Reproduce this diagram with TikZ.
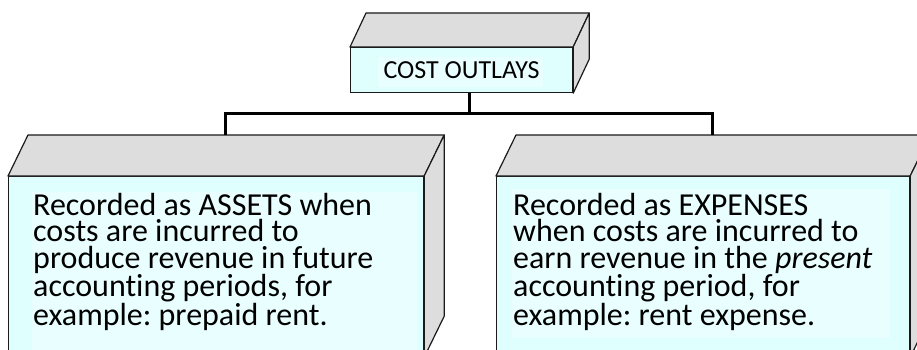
\documentclass[tikz,border=0pt]{standalone}
\usepackage{fontspec}
\setmainfont{Carlito}[Ligatures=NoCommon]
\frenchspacing
\definecolor{facefill}{HTML}{DFFFFF}
\definecolor{innerfill}{HTML}{E9FFFF}
\definecolor{sidefill}{HTML}{DDDDDD}
\definecolor{edgecol}{HTML}{1A1A1A}
\begin{document}
\begin{tikzpicture}[x=1pt,y=-1pt,
  face/.style={draw=edgecol,line width=1.2pt,fill=facefill,inner sep=0pt,anchor=north west},
  side/.style={draw=edgecol,line width=1.2pt,fill=sidefill,line join=round},
  innerbox/.style={fill=innerfill,inner sep=0pt,anchor=north west},
  body/.style={font=\fontsize{32}{26.3}\selectfont,align=left,anchor=north west,inner sep=0pt,text=black},
  conn/.style={line width=3pt,black,line join=miter}]
\useasboundingbox (0,0) rectangle (917,350);
\clip (0,0) rectangle (917,350);

% top box
\node[face,minimum width=222pt,minimum height=45pt] (top) at (350,47) {};
\draw[side] (top.north west) -- ++(16,-34) -- ([shift={(16,-34)}]top.north east) -- (top.north east) -- cycle;
\draw[side] (top.north east) -- ([shift={(16,-34)}]top.north east) -- ([shift={(16,-34)}]top.south east) -- (top.south east) -- cycle;
\node[innerbox,minimum width=165pt,minimum height=30pt] (topin) at (378,57) {};
\node[font=\fontsize{26}{30}\selectfont,inner sep=0pt] (toptext) at (top.center) {COST OUTLAYS};

% left box
\node[face,minimum width=415pt,minimum height=180pt] (left) at (8,176) {};
\draw[side] (left.north west) -- ++(20,-41) -- ([shift={(20,-41)}]left.north east) -- (left.north east) -- cycle;
\draw[side] (left.north east) -- ([shift={(20,-41)}]left.north east) -- ([shift={(20,-41)}]left.south east) -- (left.south east) -- cycle;
\node[innerbox,minimum width=385pt,minimum height=170pt] (leftin) at (32,192) {};
\node[body] (lefttext) at (33,193) {Recorded as ASSETS when\\costs are incurred to\\produce revenue in future\\accounting periods, for\\example: prepaid rent.};

% right box
\node[face,minimum width=413pt,minimum height=180pt] (right) at (496,176) {};
\draw[side] (right.north west) -- ++(20,-41) -- ([shift={(20,-41)}]right.north east) -- (right.north east) -- cycle;
\draw[side] (right.north east) -- ([shift={(20,-41)}]right.north east) -- ([shift={(20,-41)}]right.south east) -- (right.south east) -- cycle;
\node[innerbox,minimum width=378pt,minimum height=149pt] (rightin) at (512,189) {};
\node[body] (righttext) at (513,193) {Recorded as EXPENSES\\when costs are incurred to\\earn revenue in the \textit{present}\\accounting period, for\\example: rent expense.};

% connectors
\coordinate (lb) at ([shift={(20,-41)}]left.north west);
\coordinate (rb) at ([shift={(20,-41)}]right.north west);
\coordinate (jl) at (225,114);
\coordinate (jr) at (712,114);
\coordinate (tc) at ([xshift=8pt]top.south);
\draw[conn] (tc) -- (tc |- jl);
\draw[conn] (jl |- lb) -- (jl) -- (jr) -- (jr |- rb);
\end{tikzpicture}
\end{document}
